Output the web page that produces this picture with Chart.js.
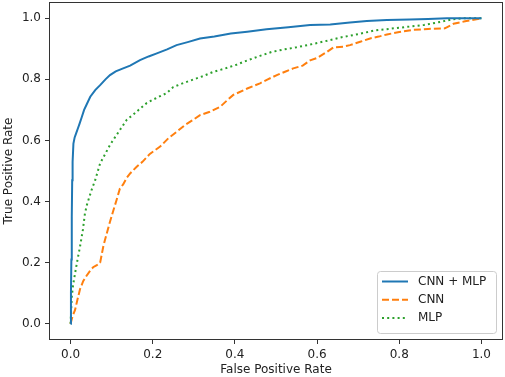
<!DOCTYPE html>
<html>
<head>
  <title>ROC curves</title>
  <script src="https://cdn.jsdelivr.net/npm/chart.js"></script>
  <style>
    html, body { margin: 0; padding: 0; background: #fff; }
    #wrap { width: 505px; height: 377px; }
  </style>
</head>
<body>
  <div id="wrap"><canvas id="roc"></canvas></div>

  <script>
    // ROC points (false positive rate / true positive rate)
    const cnnMlpFpr = [0, 0.001, 0.002, 0.003, 0.004, 0.005, 0.007, 0.01, 0.014, 0.018, 0.022, 0.027, 0.033, 0.04, 0.048, 0.06, 0.072, 0.085, 0.096, 0.11, 0.128, 0.145, 0.169, 0.19, 0.21, 0.235, 0.258, 0.285, 0.315, 0.35, 0.39, 0.43, 0.477, 0.53, 0.583, 0.632, 0.68, 0.721, 0.77, 0.826, 0.87, 0.916, 0.96, 1.0];
    const cnnMlpTpr = [0, 0.1, 0.21, 0.35, 0.47, 0.53, 0.59, 0.61, 0.625, 0.64, 0.655, 0.675, 0.70, 0.72, 0.743, 0.765, 0.781, 0.80, 0.814, 0.826, 0.836, 0.845, 0.863, 0.875, 0.885, 0.898, 0.912, 0.922, 0.934, 0.94, 0.95, 0.956, 0.964, 0.971, 0.978, 0.98, 0.986, 0.991, 0.994, 0.996, 0.998, 1.0, 1.0, 1.0];

    const cnnFpr = [0, 0.005, 0.011, 0.017, 0.023, 0.031, 0.039, 0.047, 0.055, 0.064, 0.072, 0.08, 0.088, 0.096, 0.104, 0.112, 0.12, 0.128, 0.137, 0.145, 0.161, 0.175, 0.193, 0.218, 0.238, 0.258, 0.278, 0.299, 0.315, 0.339, 0.364, 0.38, 0.396, 0.43, 0.461, 0.48, 0.502, 0.522, 0.542, 0.565, 0.583, 0.6, 0.624, 0.64, 0.664, 0.68, 0.705, 0.729, 0.75, 0.77, 0.8, 0.834, 0.87, 0.911, 0.932, 0.96, 1.0];
    const cnnTpr = [0, 0.025, 0.045, 0.08, 0.113, 0.14, 0.157, 0.172, 0.185, 0.192, 0.2, 0.255, 0.295, 0.334, 0.37, 0.405, 0.442, 0.456, 0.478, 0.492, 0.514, 0.53, 0.556, 0.58, 0.607, 0.628, 0.65, 0.668, 0.683, 0.694, 0.71, 0.73, 0.749, 0.77, 0.787, 0.8, 0.814, 0.825, 0.836, 0.845, 0.862, 0.87, 0.89, 0.905, 0.907, 0.912, 0.923, 0.934, 0.94, 0.947, 0.955, 0.962, 0.965, 0.967, 0.982, 0.99, 1.0];

    const mlpFpr = [0, 0.003, 0.006, 0.011, 0.017, 0.023, 0.03, 0.035, 0.04, 0.046, 0.053, 0.06, 0.072, 0.084, 0.096, 0.108, 0.12, 0.137, 0.153, 0.17, 0.185, 0.2, 0.218, 0.234, 0.25, 0.275, 0.3, 0.325, 0.348, 0.375, 0.404, 0.43, 0.461, 0.49, 0.52, 0.55, 0.58, 0.62, 0.66, 0.7, 0.74, 0.78, 0.82, 0.86, 0.9, 0.93, 0.96, 1.0];
    const mlpTpr = [0, 0.088, 0.125, 0.165, 0.21, 0.252, 0.307, 0.361, 0.39, 0.416, 0.445, 0.47, 0.525, 0.555, 0.585, 0.61, 0.634, 0.668, 0.685, 0.705, 0.722, 0.733, 0.745, 0.755, 0.775, 0.788, 0.8, 0.812, 0.825, 0.835, 0.848, 0.862, 0.877, 0.89, 0.898, 0.905, 0.913, 0.925, 0.938, 0.948, 0.96, 0.966, 0.972, 0.978, 0.988, 0.997, 1.0, 1.0];

    const seriesLabels = ['CNN + MLP', 'CNN', 'MLP'];
    const xTicks = [0, 0.2, 0.4, 0.6, 0.8, 1.0];
    const yTicks = [0, 0.2, 0.4, 0.6, 0.8, 1.0];

    const toPoints = (xs, ys) => xs.map((x, i) => ({ x: x, y: ys[i] }));
    const FONT = { family: 'DejaVu Sans', size: 12 };
    const INK = '#222';
    const FRAME = '#333';

    // matplotlib-like box around the axes plus a legend in the lower right
    const framePlugin = {
      id: 'frame',
      afterDatasetsDraw(chart) {
        const { ctx, chartArea: a } = chart;
        ctx.save();
        ctx.strokeStyle = FRAME;
        ctx.lineWidth = 1;
        ctx.strokeRect(Math.round(a.left) - 0.5, Math.round(a.top) - 0.5,
          Math.round(a.right - a.left) + 1, Math.round(a.bottom - a.top) + 1);

        // legend
        const w = 119, h = 62;
        const x0 = a.right - 6 - w, y0 = a.bottom - 6 - h;
        ctx.beginPath();
        ctx.roundRect(x0 + 0.5, y0 + 0.5, w, h, 3);
        ctx.fillStyle = 'rgba(255,255,255,0.8)';
        ctx.fill();
        ctx.strokeStyle = '#cccccc';
        ctx.stroke();

        ctx.font = '12px "DejaVu Sans"';
        ctx.textBaseline = 'middle';
        ctx.textAlign = 'left';
        chart.data.datasets.forEach((ds, i) => {
          const cy = y0 + 10.5 + i * 18.3;
          ctx.beginPath();
          ctx.setLineDash(ds.borderDash || []);
          ctx.strokeStyle = ds.borderColor;
          ctx.lineWidth = ds.borderWidth;
          ctx.moveTo(x0 + 5, cy);
          ctx.lineTo(x0 + 31, cy);
          ctx.stroke();
          ctx.setLineDash([]);
          ctx.fillStyle = INK;
          ctx.fillText(ds.label, x0 + 41, cy);
        });
        ctx.restore();
      }
    };

    const lineSet = (label, xs, ys, color, dash) => ({
      label: label,
      data: toPoints(xs, ys),
      borderColor: color,
      backgroundColor: color,
      borderWidth: 2,
      borderDash: dash,
      borderCapStyle: 'butt',
      showLine: true,
      pointRadius: 0,
      tension: 0,
      fill: false
    });

    new Chart(document.getElementById('roc'), {
      type: 'scatter',
      data: {
        datasets: [
          lineSet(seriesLabels[0], cnnMlpFpr, cnnMlpTpr, '#1f77b4', []),
          lineSet(seriesLabels[1], cnnFpr, cnnTpr, '#ff7f0e', [7, 3]),
          lineSet(seriesLabels[2], mlpFpr, mlpTpr, '#2ca02c', [2, 3.2])
        ]
      },
      options: {
        responsive: true,
        maintainAspectRatio: false,
        animation: false,
        layout: { padding: { top: 3, right: 3, left: 0, bottom: 0 } },
        plugins: {
          legend: { display: false },
          tooltip: { enabled: false }
        },
        scales: {
          x: {
            type: 'linear',
            min: -0.05,
            max: 1.05,
            afterBuildTicks: s => { s.ticks = xTicks.map(v => ({ value: v })); },
            afterFit: s => { s.height = 38; s.paddingLeft = 0; s.paddingRight = 0; },
            ticks: { font: FONT, color: INK, padding: 4, maxRotation: 0, callback: v => v.toFixed(1) },
            grid: { drawOnChartArea: false, drawTicks: true, tickLength: 5, color: FRAME },
            border: { display: false },
            title: { display: true, text: 'False Positive Rate', font: FONT, color: INK, padding: { top: 0, bottom: 0 } }
          },
          y: {
            type: 'linear',
            min: -0.05,
            max: 1.05,
            afterBuildTicks: s => { s.ticks = yTicks.map(v => ({ value: v })); },
            afterFit: s => { s.width = 50; s.paddingTop = 0; s.paddingBottom = 0; },
            ticks: { font: FONT, color: INK, padding: 4, callback: v => v.toFixed(1) },
            grid: { drawOnChartArea: false, drawTicks: true, tickLength: 5, color: FRAME },
            border: { display: false },
            title: { display: true, text: 'True Positive Rate', font: FONT, color: INK, padding: { top: 2, bottom: 0 } }
          }
        }
      },
      plugins: [framePlugin]
    });
  </script>
</body>
</html>
